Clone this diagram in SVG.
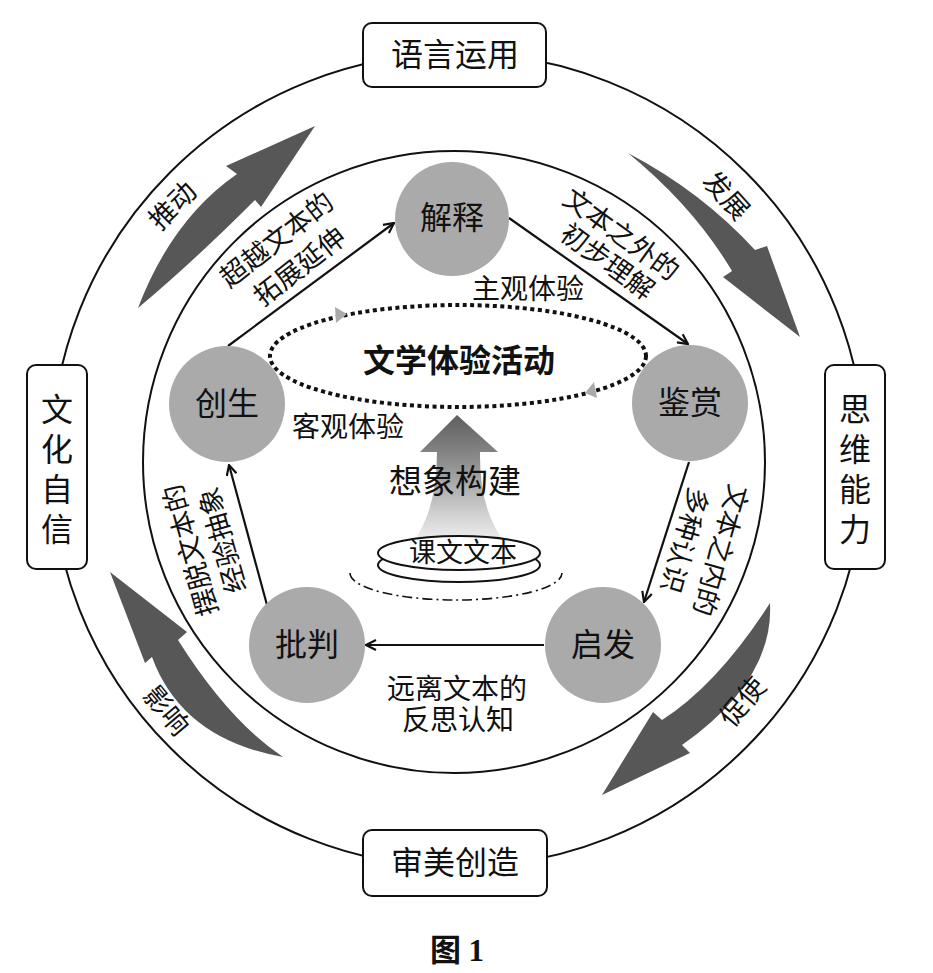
<svg xmlns="http://www.w3.org/2000/svg" width="933" height="973" viewBox="0 0 933 973">
<defs>
<style>
text{font-family:"Liberation Serif","Noto Sans CJK SC",serif;fill:#111;}
.t{text-anchor:middle;dominant-baseline:central;}
.box{fill:#fff;stroke:#111;stroke-width:2;}
.node{fill:#aaaaaa;}
.ring{fill:none;stroke:#111;stroke-width:2;}
.big{fill:#575757;}
.conn{fill:none;stroke:#111;stroke-width:2.2;marker-end:url(#open);}
</style>
<marker id="open" viewBox="0 0 12 12" refX="11" refY="6" markerWidth="12" markerHeight="12" markerUnits="userSpaceOnUse" orient="auto">
<path d="M1,1 L11,6 L1,11" fill="none" stroke="#111" stroke-width="2.2"/>
</marker>
<linearGradient id="up" x1="0" y1="0" x2="0" y2="1">
<stop offset="0" stop-color="#5e5e5e"/>
<stop offset="0.35" stop-color="#8c8c8c"/>
<stop offset="0.75" stop-color="#cfcfcf"/>
<stop offset="1" stop-color="#f4f4f4"/>
</linearGradient>
</defs>
<rect width="933" height="973" fill="#fff"/>

<g id="rings">
<circle class="ring" cx="458" cy="460" r="407"/>
<circle class="ring" cx="454" cy="462" r="311"/>
</g>

<g id="big-arrows">
<path class="big" d="M138,308 Q172,219 237,174 L226,166 L315,126 L261,207 L255,200 Q193,262 138,308 Z"/>
<path class="big" d="M628,153 Q702,192 755,250 L767,246 L800,337 L723,277 L732,271 Q694,207 628,153 Z"/>
<path class="big" d="M770,603 Q774,680 682,745 L690,753 L602,795 L653,712 L662,720 Q718,684 770,603 Z"/>
<path class="big" d="M283,757 Q229,721 178,640 L187,632 L110,572 L145,663 L152,657 Q182,739 283,757 Z"/>
<text class="t" font-size="27" transform="translate(173,206) rotate(-45)">推动</text>
<text class="t" font-size="27" transform="translate(726,196) rotate(48)">发展</text>
<text class="t" font-size="27" transform="translate(743,702) rotate(-50)">促使</text>
<text class="t" font-size="27" transform="translate(166,711) rotate(50)">影响</text>
</g>

<g id="box-top">
<rect class="box" x="363" y="23" width="183" height="64" rx="9"/>
<text class="t" x="455" y="55" font-size="32">语言运用</text>
</g>
<g id="box-bottom">
<rect class="box" x="363" y="830" width="184" height="66" rx="9"/>
<text class="t" x="455" y="863" font-size="32">审美创造</text>
</g>
<g id="box-left">
<rect class="box" x="27" y="365" width="60" height="204" rx="9"/>
<text class="t" x="57" font-size="32"><tspan x="57" y="410">文</tspan><tspan x="57" y="450">化</tspan><tspan x="57" y="490">自</tspan><tspan x="57" y="530">信</tspan></text>
</g>
<g id="box-right">
<rect class="box" x="825" y="365" width="60" height="204" rx="9"/>
<text class="t" x="855" font-size="32"><tspan x="855" y="410">思</tspan><tspan x="855" y="450">维</tspan><tspan x="855" y="490">能</tspan><tspan x="855" y="530">力</tspan></text>
</g>

<g id="center">
<ellipse cx="458" cy="356" rx="188" ry="51" fill="none" stroke="#111" stroke-width="4" stroke-dasharray="4 3.5"/>
<path d="M347,314 L335,307 L336,323 Z" fill="#aaa"/>
<path d="M585,393 L594,382 L597,398 Z" fill="#aaa"/>
<text class="t" x="459" y="358" font-size="32" font-weight="bold" style="font-family:'Noto Sans CJK SC',sans-serif">文学体验活动</text>
<text class="t" x="528" y="289" font-size="28">主观体验</text>
<text class="t" x="348" y="427" font-size="28">客观体验</text>
<path d="M457,415 L498,452 L480,452 Q479,512 507,545 L411,545 Q437,512 437,452 L420,452 Z" fill="url(#up)"/>
<text class="t" x="455" y="482" font-size="33">想象构建</text>
<ellipse cx="459" cy="565" rx="81" ry="17" fill="#fff" stroke="#111" stroke-width="2"/>
<ellipse cx="459" cy="553" rx="81" ry="17" fill="#fff" stroke="#111" stroke-width="2"/>
<text class="t" x="463" y="553" font-size="27">课文文本</text>
<path d="M350,573 A106,27 0 0,0 562,573" fill="none" stroke="#111" stroke-width="1.6" stroke-dasharray="10 4 2 4"/>
</g>

<g id="connectors">
<line class="conn" x1="228" y1="346" x2="394" y2="223"/>
<line class="conn" x1="509" y1="218" x2="688" y2="344"/>
<line class="conn" x1="689" y1="462" x2="644" y2="602"/>
<line class="conn" x1="544" y1="645" x2="366" y2="645"/>
<line class="conn" x1="267" y1="605" x2="229" y2="465"/>
<text class="t" font-size="27" transform="translate(277,240) rotate(-38)">超越文本的</text>
<text class="t" font-size="27" transform="translate(300,267) rotate(-38)">拓展延伸</text>
<text class="t" font-size="27" transform="translate(621,235) rotate(36)">文本之外的</text>
<text class="t" font-size="27" transform="translate(607,262) rotate(36)">初步理解</text>
<text class="t" font-size="27" transform="translate(720,550) rotate(106)">文本之内的</text>
<text class="t" font-size="27" transform="translate(684,540) rotate(106)">多种认识</text>
<text class="t" font-size="27" transform="translate(191,550) rotate(-106)">摆脱文本的</text>
<text class="t" font-size="27" transform="translate(223,540) rotate(-106)">经验抽象</text>
<text class="t" x="457" y="689" font-size="28">远离文本的</text>
<text class="t" x="458" y="720" font-size="28">反思认知</text>
</g>

<g id="node-jieshi"><circle class="node" cx="452" cy="219" r="57"/><text class="t" x="452" y="218" font-size="32">解释</text></g>
<g id="node-jianshang"><circle class="node" cx="690" cy="403" r="58"/><text class="t" x="690" y="403" font-size="32">鉴赏</text></g>
<g id="node-qifa"><circle class="node" cx="603" cy="645" r="58"/><text class="t" x="603" y="645" font-size="32">启发</text></g>
<g id="node-pipan"><circle class="node" cx="307" cy="645" r="58"/><text class="t" x="307" y="645" font-size="32">批判</text></g>
<g id="node-chuangsheng"><circle class="node" cx="227" cy="404" r="58"/><text class="t" x="227" y="404" font-size="32">创生</text></g>

<text class="t" x="457" y="950" font-size="31" font-weight="bold">图 1</text>
</svg>
